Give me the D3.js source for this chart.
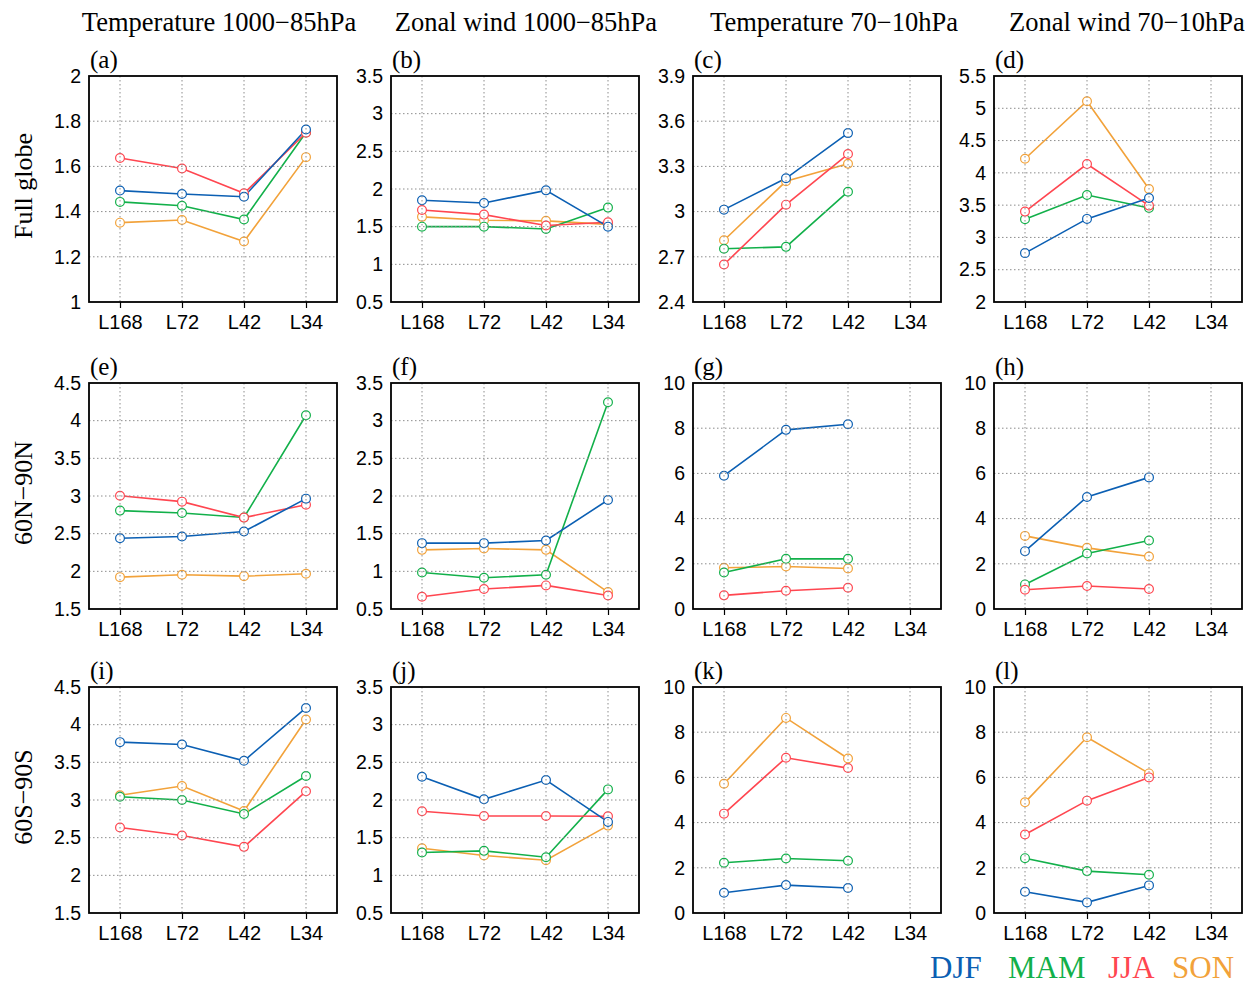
<!DOCTYPE html>
<html>
<head>
<meta charset="utf-8">
<script src="https://cdn.jsdelivr.net/npm/d3@7"></script>
<style>
  html, body { margin: 0; padding: 0; background: #fff; }
  svg { display: block; }
</style>
</head>
<body>
<svg id="chart" width="1249" height="984"></svg>
<script>
// Model vertical resolutions and seasons
const levels = ["L168", "L72", "L42", "L34"];
const seasons = ["DJF", "MAM", "JJA", "SON"];
const seasonColors = ["#0b5fb3", "#12b04a", "#ff4650", "#f2a23a"];

const columnTitles = ["Temperature 1000\u221285hPa", "Zonal wind 1000\u221285hPa",
                      "Temperature 70\u221210hPa", "Zonal wind 70\u221210hPa"];
const rowTitles = ["Full globe", "60N\u221290N", "60S\u221290S"];
const panelLetters = ["a","b","c","d","e","f","g","h","i","j","k","l"];

// Values per panel: rows = DJF, MAM, JJA, SON; columns = L168, L72, L42, L34
const valuesA = [[1.493,1.478,1.466,1.763],[1.443,1.426,1.365,1.750],[1.637,1.591,1.481,1.749],[1.351,1.363,1.268,1.641]];
const valuesB = [[1.85,1.815,1.982,1.50],[1.50,1.50,1.47,1.753],[1.722,1.66,1.515,1.559],[1.63,1.585,1.577,1.53]];
const valuesC = [[3.013,3.221,3.521,null],[2.753,2.766,3.132,null],[2.649,3.046,3.382,null],[2.810,3.201,3.318,null]];
const valuesD = [[2.757,3.287,3.611,null],[3.282,3.657,3.457,null],[3.40,4.136,3.493,null],[4.218,5.109,3.75,null]];
const valuesE = [[2.44,2.462,2.528,2.965],[2.806,2.775,2.715,4.072],[3.004,2.925,2.713,2.885],[1.923,1.954,1.936,1.968]];
const valuesF = [[1.374,1.374,1.409,1.947],[0.985,0.915,0.954,3.244],[0.663,0.765,0.813,0.68],[1.285,1.303,1.285,0.725]];
const valuesG = [[5.897,7.926,8.176,null],[1.618,2.22,2.22,null],[0.603,0.809,0.941,null],[1.824,1.882,1.794,null]];
const valuesH = [[2.559,4.956,5.824,null],[1.088,2.456,3.029,null],[0.853,1.015,0.882,null],[3.235,2.706,2.324,null]];
const valuesI = [[3.768,3.737,3.521,4.222],[3.044,3.0,2.815,3.318],[2.634,2.528,2.378,3.115],[3.062,3.185,2.854,4.068]];
const valuesJ = [[2.309,2.009,2.265,1.709],[1.303,1.325,1.241,2.141],[1.85,1.788,1.788,1.785],[1.36,1.263,1.201,1.66]];
const valuesK = [[0.897,1.235,1.103,null],[2.221,2.412,2.309,null],[4.397,6.868,6.412,null],[5.72,8.632,6.838,null]];
const valuesL = [[0.941,0.47,1.221,null],[2.426,1.853,1.691,null],[3.471,4.971,6.0,null],[4.897,7.779,6.176,null]];

// Y-axis tick values per panel (first and last give the axis range)
const ticksA = [1, 1.2, 1.4, 1.6, 1.8, 2];
const ticksB = [0.5, 1, 1.5, 2, 2.5, 3, 3.5];
const ticksC = [2.4, 2.7, 3, 3.3, 3.6, 3.9];
const ticksD = [2, 2.5, 3, 3.5, 4, 4.5, 5, 5.5];
const ticksE = [1.5, 2, 2.5, 3, 3.5, 4, 4.5];
const ticksF = [0.5, 1, 1.5, 2, 2.5, 3, 3.5];
const ticksG = [0, 2, 4, 6, 8, 10];
const ticksH = [0, 2, 4, 6, 8, 10];
const ticksI = [1.5, 2, 2.5, 3, 3.5, 4, 4.5];
const ticksJ = [0.5, 1, 1.5, 2, 2.5, 3, 3.5];
const ticksK = [0, 2, 4, 6, 8, 10];
const ticksL = [0, 2, 4, 6, 8, 10];

const panelValues = [valuesA, valuesB, valuesC, valuesD, valuesE, valuesF,
                     valuesG, valuesH, valuesI, valuesJ, valuesK, valuesL];
const panelTicks = [ticksA, ticksB, ticksC, ticksD, ticksE, ticksF,
                    ticksG, ticksH, ticksI, ticksJ, ticksK, ticksL];

// Layout
const colLeft = [89, 391, 693, 994];
const rowTop = [76, 383, 687];
const plotW = 248, plotH = 226;
const serif = "'Liberation Serif', 'Times New Roman', serif";
const sans = "'Liberation Sans', Arial, Helvetica, sans-serif";

const svg = d3.select("#chart");

// Column titles
const titleX = [219, 526, 834, 1127];
columnTitles.forEach((t, i) => {
  svg.append("text")
    .attr("x", titleX[i]).attr("y", 31)
    .attr("text-anchor", "middle")
    .attr("font-family", serif).attr("font-size", 26.5)
    .text(t);
});

// Row titles (rotated)
rowTitles.forEach((t, r) => {
  const cy = rowTop[r] + plotH / 2 - 3;
  svg.append("text")
    .attr("transform", `translate(32,${cy}) rotate(-90)`)
    .attr("text-anchor", "middle")
    .attr("font-family", serif).attr("font-size", 26)
    .text(t);
});

const fmt = v => String(+v.toFixed(2));

panelValues.forEach((vals, p) => {
  const r = Math.floor(p / 4), c = p % 4;
  const left = colLeft[c], top = rowTop[r];
  const ticks = panelTicks[p];

  const x = d3.scalePoint().domain(levels).range([left, left + plotW]).padding(0.5);
  const y = d3.scaleLinear().domain([ticks[0], ticks[ticks.length - 1]]).range([top + plotH, top]);

  const g = svg.append("g");

  // Series lines and markers
  const line = d3.line()
    .defined(d => d.v !== null)
    .x(d => x(d.lev)).y(d => y(d.v));

  const order = [3, 1, 2, 0];
  order.forEach(s => {
    const pts = vals[s].map((v, i) => ({ lev: levels[i], v }));
    g.append("path")
      .datum(pts)
      .attr("d", line)
      .attr("fill", "none")
      .attr("stroke", seasonColors[s])
      .attr("stroke-width", 1.6);
  });
  order.forEach(s => {
    const pts = vals[s].map((v, i) => ({ lev: levels[i], v })).filter(d => d.v !== null);
    g.selectAll(null).data(pts).enter().append("circle")
      .attr("cx", d => x(d.lev)).attr("cy", d => y(d.v))
      .attr("r", 4.4)
      .attr("fill", "#fff")
      .attr("stroke", seasonColors[s])
      .attr("stroke-width", 1.2);
  });

  // Dotted grid drawn over the data
  const grid = g.append("g")
    .attr("stroke", "#8c8c8c").attr("stroke-width", 1)
    .attr("stroke-dasharray", "1.5,2.5");
  ticks.slice(1, -1).forEach(t => {
    grid.append("line")
      .attr("x1", left).attr("x2", left + plotW)
      .attr("y1", y(t)).attr("y2", y(t));
  });
  levels.forEach(l => {
    grid.append("line")
      .attr("x1", x(l)).attr("x2", x(l))
      .attr("y1", top).attr("y2", top + plotH);
  });

  // Axes
  const yAxis = d3.axisLeft(y).tickValues(ticks).tickFormat(fmt).tickSize(0).tickPadding(8);
  const ya = g.append("g").attr("transform", `translate(${left},0)`).call(yAxis);
  ya.select(".domain").remove();
  ya.selectAll("text").attr("font-family", sans).attr("font-size", 19.5).attr("fill", "#000");

  const xAxis = d3.axisBottom(x).tickSize(6).tickPadding(7);
  const xa = g.append("g").attr("transform", `translate(0,${top + plotH})`).call(xAxis);
  xa.select(".domain").remove();
  xa.selectAll("line").attr("stroke", "#000").attr("stroke-width", 1.2);
  xa.selectAll("text").attr("font-family", sans).attr("font-size", 20).attr("fill", "#000");

  // Frame
  g.append("rect")
    .attr("x", left).attr("y", top)
    .attr("width", plotW).attr("height", plotH)
    .attr("fill", "none").attr("stroke", "#000").attr("stroke-width", 1.8);

  // Panel letter
  svg.append("text")
    .attr("x", left + 1).attr("y", top - 8)
    .attr("font-family", serif).attr("font-size", 25)
    .text(`(${panelLetters[p]})`);
});

// Season legend
const legendX = [930, 1008, 1108, 1172];
seasons.forEach((s, i) => {
  svg.append("text")
    .attr("x", legendX[i]).attr("y", 978)
    .attr("font-family", serif).attr("font-size", 31)
    .attr("fill", seasonColors[i])
    .text(s);
});
</script>
</body>
</html>
